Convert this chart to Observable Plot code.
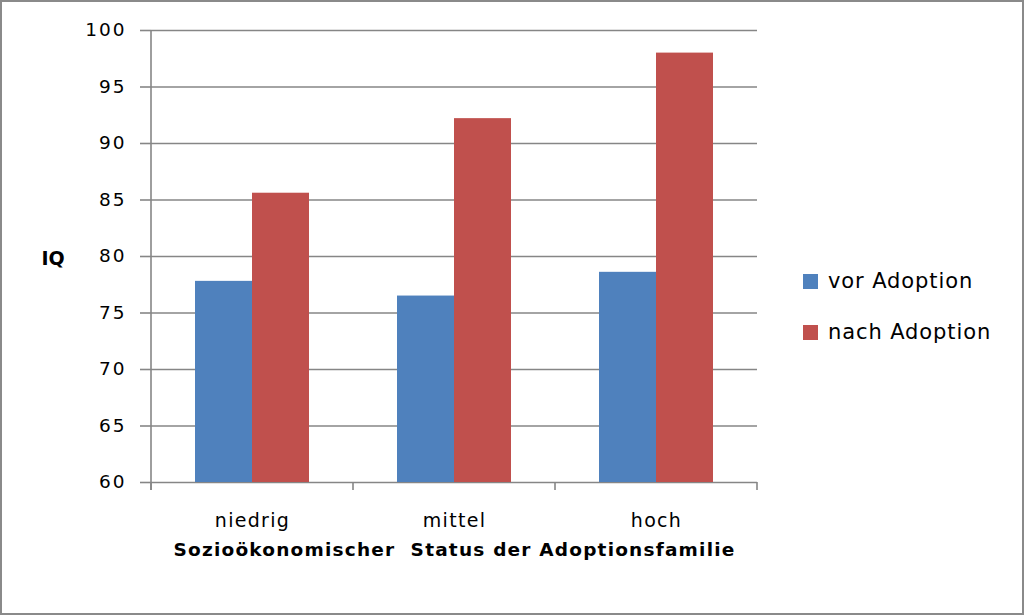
<!DOCTYPE html>
<html><head><meta charset="utf-8">
<script src="https://cdn.jsdelivr.net/npm/d3@7"></script>
<script src="https://cdn.jsdelivr.net/npm/@observablehq/plot@0.6"></script>
<style>
body{margin:0;background:#fff;}
#wrap{position:relative;width:1024px;height:615px;overflow:hidden;font-family:"DejaVu Sans",sans-serif;background:#fff;}
#border{position:absolute;left:0;top:0;width:1024px;height:615px;box-sizing:border-box;border:2px solid #8a8a8a;pointer-events:none;}
#legend{position:absolute;left:803px;top:0;font-size:21px;color:#000;letter-spacing:0.9px;}
.item{position:absolute;left:0;white-space:nowrap;display:flex;align-items:center;height:30px;}
.sw{width:15px;height:15px;margin-right:10px;}
#chart svg g[aria-label="y-axis tick label"] text{letter-spacing:2px;}
#chart svg g[aria-label="fx-axis tick label"] text{letter-spacing:1.3px;}
#chart svg g.xt text{letter-spacing:1.2px;}
</style></head><body>
<div id="wrap"><div id="chart"></div><div id="legend"></div><div id="border"></div></div>
<script>
const categories = ["niedrig", "mittel", "hoch"];
const series = ["vor Adoption", "nach Adoption"];
const vorValues = [77.8, 76.5, 78.6];
const nachValues = [85.6, 92.2, 98.0];
const yTicks = [60, 65, 70, 75, 80, 85, 90, 95, 100];
const colors = ["#4F81BD", "#C0504D"];
const xTitle = "Sozioökonomischer  Status der Adoptionsfamilie";
const yTitle = "IQ";

const data = categories.flatMap((c, i) => [
  {cat: c, series: series[0], iq: vorValues[i]},
  {cat: c, series: series[1], iq: nachValues[i]}
]);

const grid = "#868686";
const plot = Plot.plot({
  width: 1024, height: 615,
  marginLeft: 150, marginRight: 266, marginTop: 30, marginBottom: 133,
  style: {fontFamily: "'DejaVu Sans', sans-serif", fontSize: "18px", color: "#000", background: "transparent"},
  fx: {domain: categories, padding: 0, label: null, axis: null},
  x: {domain: series, paddingInner: 0, paddingOuter: 0.75, axis: null},
  y: {domain: [yTicks[0], yTicks[yTicks.length - 1]], axis: null},
  color: {domain: series, range: colors},
  marks: [
    Plot.ruleY(yTicks, {stroke: grid, strokeWidth: 1.6}),
    Plot.barY(data, {fx: "cat", x: "series", y1: yTicks[0], y2: "iq", fill: "series"}),
    Plot.axisY({ticks: yTicks, tickSize: 11, tickPadding: 14, label: null, stroke: grid, strokeWidth: 1.6, fill: "#000", fontSize: 18.5}),
    Plot.axisFx({anchor: "bottom", tickSize: 0, tickPadding: 31, label: null, fill: "#000", fontSize: 19}),
    Plot.text([xTitle], {fx: [categories[1]], frameAnchor: "bottom", dy: 73, fontWeight: "bold", fontSize: 18.5, fill: "#000", className: "xt"}),
    Plot.text([yTitle], {fx: [categories[0]], frameAnchor: "left", dx: -110, dy: 2, textAnchor: "start", fontWeight: "bold", fontSize: 19, fill: "#000"})
  ]
});
document.getElementById("chart").appendChild(plot);

// Excel-style category boundary ticks and y axis line, placed through Plot's own scales
const fxs = plot.scale("fx"), ys = plot.scale("y");
const yb = ys.apply(yTicks[0]), yt = ys.apply(yTicks[yTicks.length - 1]);
const edges = categories.map(c => fxs.apply(c)).concat(fxs.apply(categories[categories.length - 1]) + fxs.bandwidth);
const g = d3.select(plot).append("g").attr("stroke", grid).attr("stroke-width", 1.6);
g.selectAll("line.e").data(edges).join("line").attr("class", "e")
  .attr("x1", d => d).attr("x2", d => d).attr("y1", yb).attr("y2", yb + 8);
g.append("line").attr("x1", edges[0]).attr("x2", edges[0]).attr("y1", yt).attr("y2", yb + 8);

// legend
const legend = d3.select("#legend");
series.forEach((s, i) => {
  const it = legend.append("div").attr("class", "item").style("top", (ys.apply(80) + 25 + i * 51 - 15) + "px");
  it.append("div").attr("class", "sw").style("background", colors[i]);
  it.append("span").text(s);
});
</script>
</body></html>
